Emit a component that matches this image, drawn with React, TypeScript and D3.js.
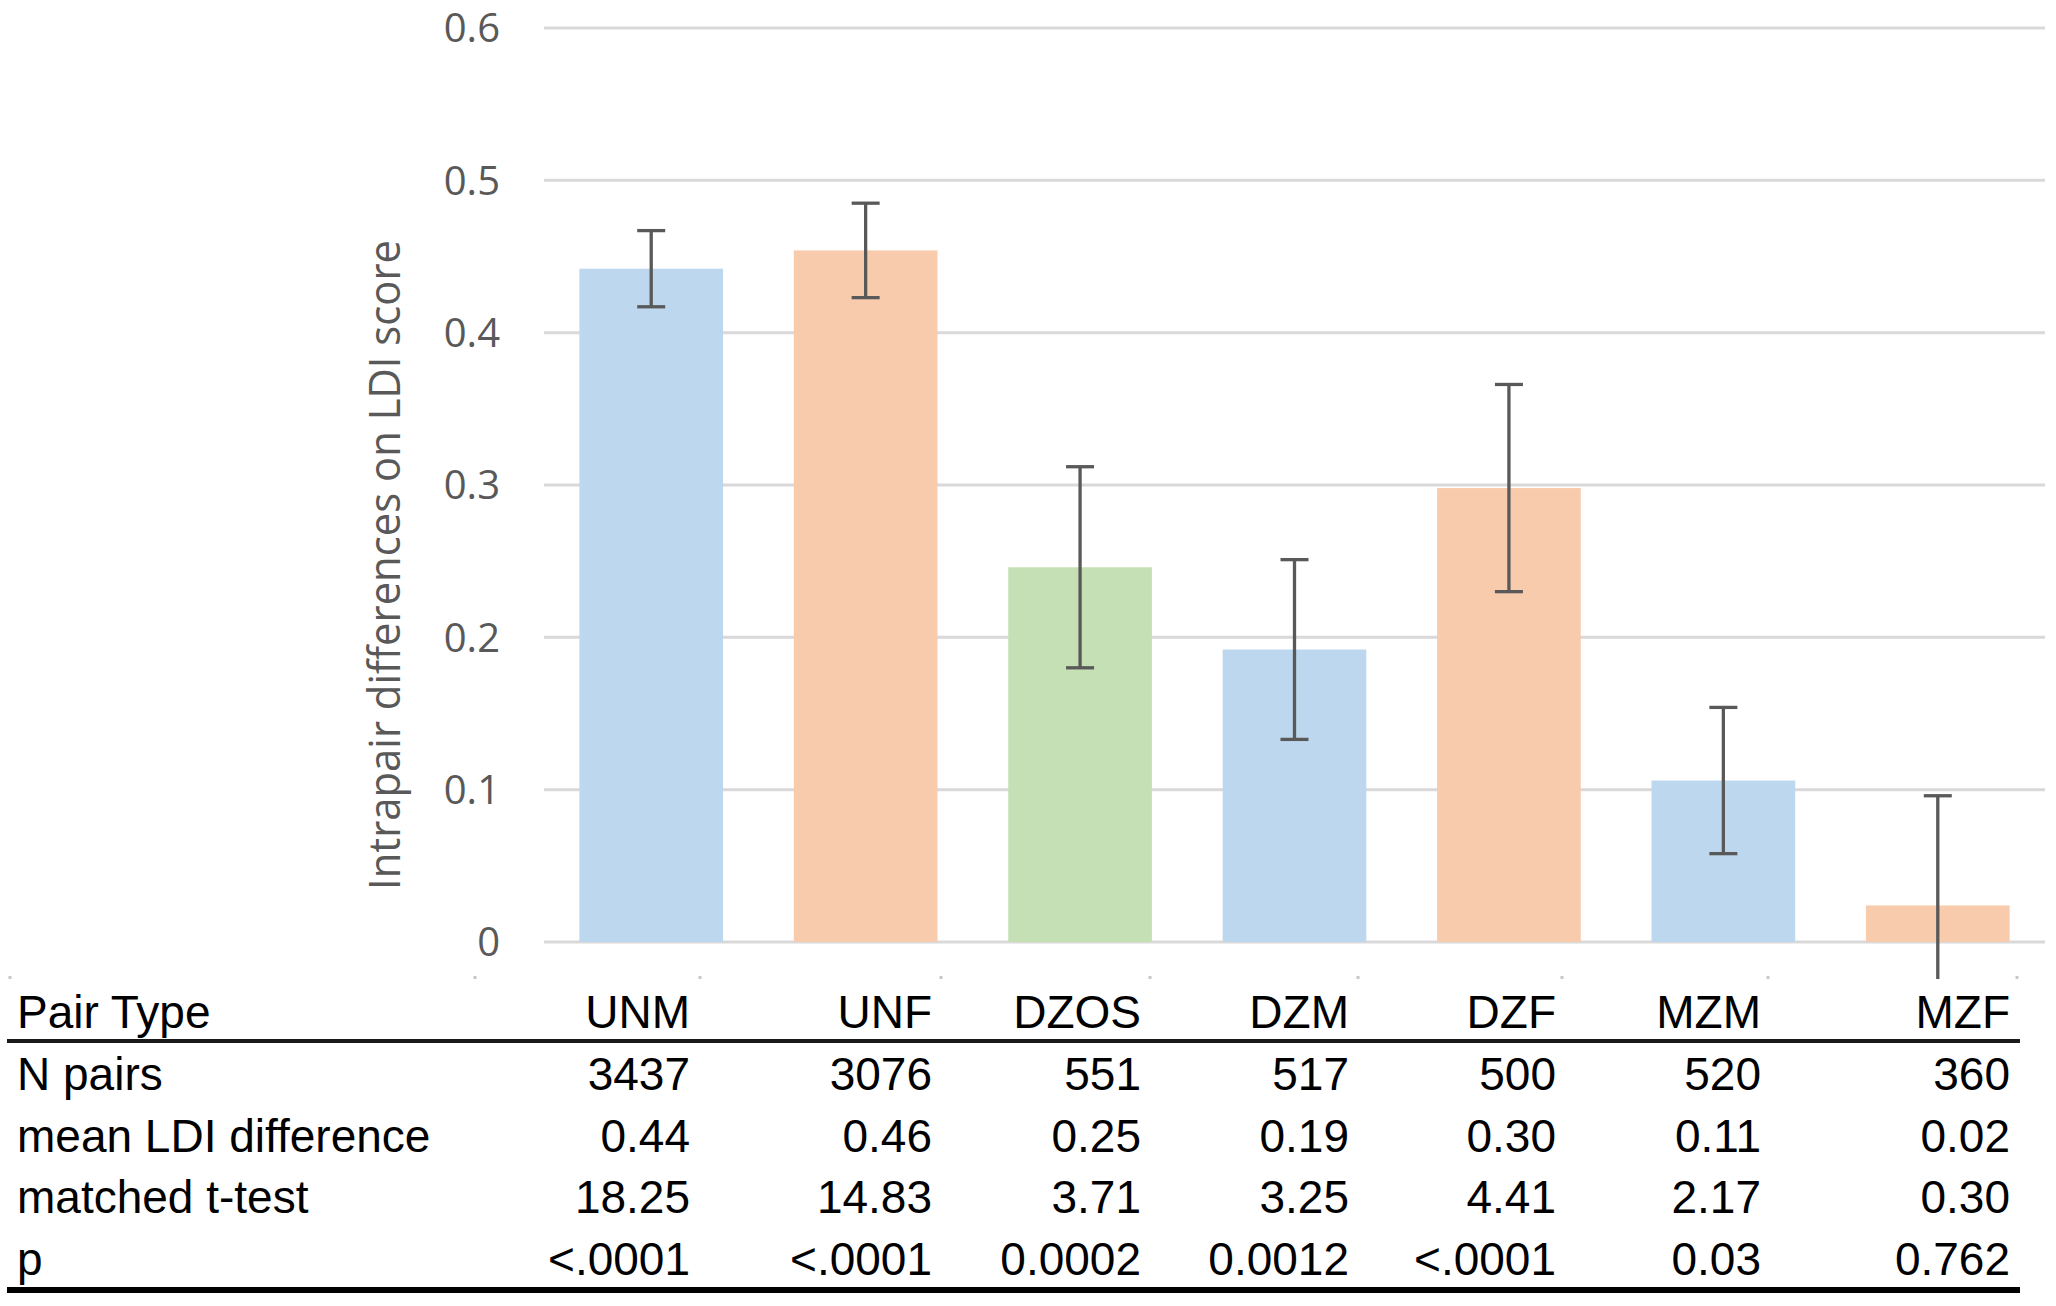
import React from "react";
import * as d3 from "d3";

const categories = ["UNM", "UNF", "DZOS", "DZM", "DZF", "MZM", "MZF"];
const meanValues = [0.442, 0.454, 0.246, 0.192, 0.298, 0.106, 0.024];
const errorValues = [0.025, 0.031, 0.066, 0.059, 0.068, 0.048, 0.072];
const sexGroups = ["male", "female", "opposite", "male", "female", "male", "female"];
const yTicks = [0, 0.1, 0.2, 0.3, 0.4, 0.5, 0.6];

const rowLabels = ["Pair Type", "N pairs", "mean LDI difference", "matched t-test", "p"];
const nPairs = ["3437", "3076", "551", "517", "500", "520", "360"];
const meanDiff = ["0.44", "0.46", "0.25", "0.19", "0.30", "0.11", "0.02"];
const tTest = ["18.25", "14.83", "3.71", "3.25", "4.41", "2.17", "0.30"];
const pValues = ["<.0001", "<.0001", "0.0002", "0.0012", "<.0001", "0.03", "0.762"];

const W = 2056;
const H = 1306;

export default function App() {
  const x = d3.scaleBand<string>().domain(categories).range([544, 2045]).paddingInner(0.33).paddingOuter(0.165);
  const y = d3.scaleLinear().domain([0, 0.6]).range([942, 28]);
  const color = d3
    .scaleOrdinal<string, string>()
    .domain(["male", "female", "opposite"])
    .range(["#BDD7EE", "#F8CBAD", "#C5E0B4"]);

  const colRight = [690, 932, 1141, 1349, 1556, 1761, 2010];
  const rowBase = [1028, 1090, 1152, 1213, 1275];
  const dotsX = [10, 475, 700, 941, 1150, 1358, 1562, 1768, 2017];
  const tableRows = [categories, nPairs, meanDiff, tTest, pValues];
  const tickFmt = (t: number) => String(+t.toFixed(1));
  const capW = 28;

  return (
    <div style={{ position: "absolute", left: 0, top: 0, width: W, height: H, background: "#fff" }}>
      <svg width={W} height={H} viewBox={`0 0 ${W} ${H}`} style={{ display: "block" }}>
        <defs>
          <clipPath id="plotClip">
            <rect x={540} y={0} width={1516} height={979} />
          </clipPath>
        </defs>
        <rect x={0} y={0} width={W} height={H} fill="#fff" />
        {yTicks.map((t) => (
          <line key={"g" + t} x1={544} x2={2045} y1={y(t)} y2={y(t)} stroke="#D9D9D9" strokeWidth={3} />
        ))}
        {yTicks.map((t) => (
          <text
            key={"t" + t}
            x={500}
            y={y(t)}
            dy="0.36em"
            textAnchor="end"
            fontFamily="'Open Sans', 'Noto Sans', sans-serif"
            fontSize={40}
            fill="#595959"
          >
            {tickFmt(t)}
          </text>
        ))}
        <text
          transform={`translate(385, 565) rotate(-90)`}
          textAnchor="middle"
          dy="0.36em"
          fontFamily="'Open Sans', 'Noto Sans', sans-serif"
          fontSize={43}
          fill="#595959"
          textLength={650}
          lengthAdjust="spacingAndGlyphs"
        >
          Intrapair differences on LDI score
        </text>
        {categories.map((c, i) => (
          <rect
            key={"b" + c}
            x={x(c)!}
            width={x.bandwidth()}
            y={y(meanValues[i])}
            height={y(0) - y(meanValues[i])}
            fill={color(sexGroups[i])}
          />
        ))}
        <g clipPath="url(#plotClip)">
          {categories.map((c, i) => {
            const cx = x(c)! + x.bandwidth() / 2;
            const hi = meanValues[i] + errorValues[i];
            const lo = meanValues[i] - errorValues[i];
            return (
              <g key={"e" + c} stroke="#595959" strokeWidth={3.3}>
                <line x1={cx} x2={cx} y1={y(hi)} y2={y(lo)} />
                <line x1={cx - capW / 2} x2={cx + capW / 2} y1={y(hi)} y2={y(hi)} />
                <line x1={cx - capW / 2} x2={cx + capW / 2} y1={y(lo)} y2={y(lo)} />
              </g>
            );
          })}
        </g>
        {dotsX.map((dx) => (
          <rect key={"d" + dx} x={dx - 1.5} y={976} width={3} height={3} fill="#C8C8C8" />
        ))}
        {rowLabels.map((lab, r) => (
          <g key={"r" + r} fontFamily="'Liberation Sans', Arial, sans-serif" fontSize={46} fill="#000">
            <text x={17} y={rowBase[r]}>
              {lab}
            </text>
            {tableRows[r].map((v, j) => (
              <text key={j} x={colRight[j]} y={rowBase[r]} textAnchor="end">
                {v}
              </text>
            ))}
          </g>
        ))}
        <line x1={7} x2={2020} y1={1041} y2={1041} stroke="#1a1a1a" strokeWidth={4} />
        <line x1={7} x2={2020} y1={1290} y2={1290} stroke="#000" strokeWidth={6} />
      </svg>
    </div>
  );
}
